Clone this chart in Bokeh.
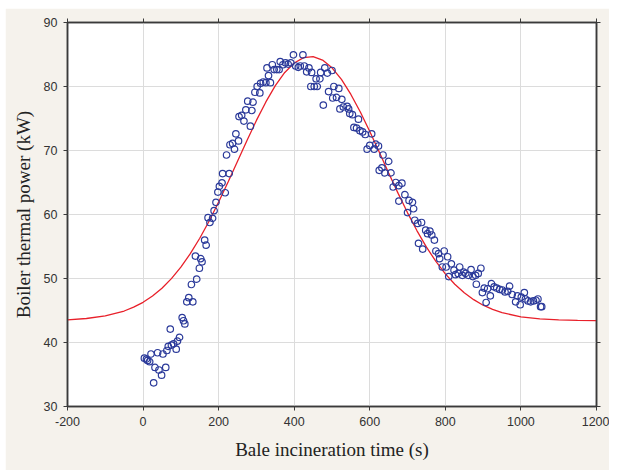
from bokeh.plotting import figure
from bokeh.models import LinearAxis, FixedTicker, Range1d, CustomJSTickFormatter
from bokeh.embed import file_html
from bokeh.resources import INLINE

# measured data (open circles)
time_s = [3.5, 9, 12, 17.5, 21, 28, 31.6, 38.6, 42, 49, 52.6, 60, 63, 66.7, 72, 75, 80.7, 87.7, 91, 96.5,
          103.5, 107, 110.5, 115.8, 121, 128, 131.6, 138.6, 142, 149, 152.6, 156, 163, 167, 172, 177, 184, 188,
          193, 198, 202, 209, 210.5, 217.5, 221, 228, 230, 237, 242, 245.6, 252.6, 254, 261, 267, 272, 277,
          284, 288, 291, 296, 302, 309, 311, 318, 325, 328, 332, 337, 342, 347, 354, 360, 363, 370, 377, 384,
          391, 398, 404, 411, 416, 423, 427, 433, 439, 444, 446, 453, 458, 461, 468, 470, 477, 481, 488, 491,
          500, 502, 505, 512, 518, 521, 526, 530, 540, 544, 547, 554, 558, 565, 570, 574, 581, 588, 593, 600,
          605, 612, 616, 623, 625, 632, 635, 640, 650, 656, 662, 669, 677, 677, 685, 693, 700, 704, 713, 716,
          719, 727, 729, 737, 740, 748, 753, 759, 764, 771, 775, 782, 785, 792, 797, 802, 806, 809, 816, 823,
          827, 834, 838, 845, 849, 854, 861, 868, 873, 880, 882, 887, 894, 898, 903, 908, 912, 919, 922, 929,
          936, 944, 951, 958, 965, 970, 977, 986, 991, 998, 1001, 1009, 1012, 1019, 1026, 1033, 1040, 1045,
          1052, 1055]
power_kw = [37.55, 37.4, 37.2, 37.0, 38.2, 33.7, 36.1, 38.4, 35.7, 34.9, 38.2, 36.1, 38.75, 39.4, 42.1, 39.6,
            39.8, 38.95, 40.2, 40.8, 43.9, 43.4, 42.9, 46.35, 47.0, 49.06, 46.35, 53.5, 49.9, 51.6, 53.1, 52.6,
            56.0, 55.2, 59.5, 58.75, 59.4, 60.6, 61.9, 63.5, 64.4, 64.95, 66.4, 63.4, 69.3, 66.4, 70.9, 71.1,
            70.2, 72.6, 71.5, 75.3, 75.5, 74.6, 76.35, 77.7, 73.8, 76.25, 77.55, 79.1, 80.0, 79.0, 80.5, 80.7,
            80.6, 82.9, 81.7, 80.6, 83.4, 82.65, 82.65, 82.65, 83.9, 83.4, 83.7, 83.5, 83.7, 84.95, 83.2, 83.0,
            83.2, 84.95, 83.2, 82.3, 82.9, 80.0, 82.2, 80.0, 81.2, 80.0, 81.2, 82.2, 77.1, 82.9, 82.1, 79.2,
            82.5, 78.2, 80.0, 78.3, 79.7, 76.5, 78.0, 76.8, 76.9, 76.5, 75.8, 75.6, 73.6, 73.5, 74.9, 73.1,
            72.9, 72.5, 70.2, 70.8, 72.6, 70.2, 71.0, 70.7, 66.9, 67.3, 69.3, 66.5, 68.3, 66.5, 64.3, 65.0,
            64.5, 62.1, 64.9, 63.1, 60.3, 62.2, 61.9, 60.9, 59.1, 58.6, 55.5, 58.75, 54.6, 57.55, 57.0, 57.4,
            56.8, 56.0, 54.3, 53.9, 53.1, 51.8, 54.3, 51.8, 53.4, 50.3, 52.3, 51.3, 50.6, 50.8, 51.8, 50.5,
            51.0, 50.8, 50.5, 51.4, 50.3, 50.5, 49.1, 50.8, 51.6, 47.8, 48.5, 46.25, 48.4, 47.3, 49.2, 48.7,
            48.5, 48.3, 48.2, 47.9, 48.0, 48.8, 47.5, 46.35, 47.3, 45.9, 47.1, 47.8, 46.8, 46.5, 46.35, 46.5,
            46.6, 46.8, 45.6, 45.6]

# fitted curve (red line)
fit_time = [-200, -150, -100, -50, -25, 0, 25, 50, 75, 100, 125, 150, 175, 200, 225, 250, 275, 300, 325, 350,
            375, 400, 425, 450, 475, 500, 525, 550, 575, 600, 625, 650, 675, 700, 725, 750, 775, 800, 825, 850,
            875, 900, 925, 950, 1000, 1050, 1100, 1150, 1200]
fit_power = [43.55, 43.75, 44.16, 44.92, 45.52, 46.28, 47.26, 48.48, 49.98, 51.77, 53.88, 56.29, 58.99, 61.94,
             65.08, 68.33, 71.57, 74.70, 77.59, 80.13, 82.19, 83.68, 84.52, 84.67, 84.13, 82.92, 81.10, 78.76,
             76.01, 72.96, 69.75, 66.50, 63.30, 60.26, 57.45, 54.90, 52.66, 50.73, 49.11, 47.77, 46.69, 45.83,
             45.17, 44.66, 44.01, 43.68, 43.52, 43.45, 43.42]

x_ticks = [-200, 0, 200, 400, 600, 800, 1000, 1200]
y_ticks = [30, 40, 50, 60, 70, 80, 90]

p = figure(width=604, height=462, output_backend="svg", toolbar_location=None,
           x_range=Range1d(-200, 1200), y_range=Range1d(30, 90),
           min_border_left=62, min_border_right=13, min_border_top=14, min_border_bottom=64)
p.margin = (8, 0, 0, 5)
p.border_fill_color = "#f5f2ec"
p.background_fill_color = "white"
p.outline_line_color = "#3a3a3a"
p.outline_line_width = 1.5

spine = "#3a3a3a"
for ax in (p.xaxis[0], p.yaxis[0]):
    ax.axis_line_color = spine
    ax.axis_line_width = 1.5
    ax.major_tick_line_color = spine
    ax.major_tick_out = 4
    ax.major_tick_in = 0
    ax.minor_tick_line_color = None
    ax.major_label_text_font = "Liberation Sans"
    ax.major_label_text_font_size = "12.5px"
    ax.major_label_text_color = "#333333"
    ax.axis_label_text_font = "Liberation Serif"
    ax.axis_label_text_font_size = "19px"
    ax.axis_label_text_font_style = "normal"
    ax.axis_label_text_color = "#222222"

p.xaxis[0].ticker = FixedTicker(ticks=x_ticks)
p.yaxis[0].ticker = FixedTicker(ticks=y_ticks)
p.xaxis[0].major_label_overrides = {-200: "-200"}
p.xaxis[0].axis_label = "Bale incineration time (s)"
p.yaxis[0].axis_label = "Boiler thermal power (kW)"
p.xaxis[0].major_label_standoff = 6
p.yaxis[0].major_label_standoff = 6
p.xaxis[0].axis_label_standoff = 10
p.yaxis[0].axis_label_standoff = 7

blank = CustomJSTickFormatter(code="return ''")
top = LinearAxis(ticker=FixedTicker(ticks=x_ticks), formatter=blank)
right = LinearAxis(ticker=FixedTicker(ticks=y_ticks), formatter=blank)
for ax in (top, right):
    ax.axis_line_color = spine
    ax.axis_line_width = 1.5
    ax.major_tick_line_color = spine
    ax.major_tick_out = 4
    ax.major_tick_in = 0
    ax.minor_tick_line_color = None
    ax.major_label_standoff = 0
p.add_layout(top, "above")
p.add_layout(right, "right")

p.xgrid.ticker = FixedTicker(ticks=x_ticks)
p.ygrid.ticker = FixedTicker(ticks=y_ticks)
p.xgrid.grid_line_color = "#dcdcdc"
p.ygrid.grid_line_color = "#dcdcdc"

p.line(fit_time, fit_power, line_color="#e8202a", line_width=1.3)
p.scatter(time_s, power_kw, marker="circle", size=6.5, fill_color=None,
          line_color="#2b3a9a", line_width=1.2)

open("out.html", "w").write(file_html(p, INLINE))
